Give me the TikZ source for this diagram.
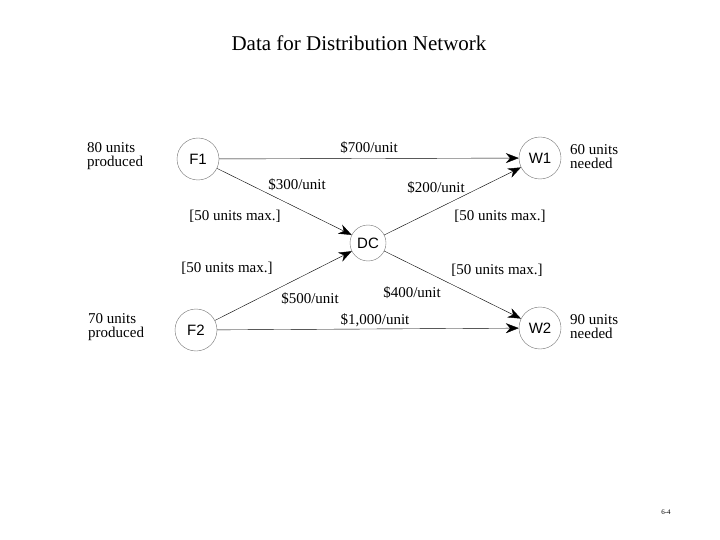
\documentclass[tikz,border=0pt]{standalone}
\usepackage{fontspec}
\setmainfont{Liberation Serif}
\newfontfamily\arial{Liberation Sans}
\usetikzlibrary{arrows.meta}
\begin{document}
\begin{tikzpicture}[x=1pt,y=-1pt,
  nd/.style={circle,draw=black!55,thin,minimum size=42pt,inner sep=0pt,font=\arial\fontsize{15}{15}\selectfont},
  arc/.style={draw,-{Stealth[length=13pt,width=10pt]}},
  lbl/.style={font=\fontsize{15}{16}\selectfont,inner sep=0pt},
  side/.style={font=\fontsize{15}{14}\selectfont,align=left,inner sep=0pt,anchor=west}]
\useasboundingbox (0,0) rectangle (720,540);
\node[font=\fontsize{21}{22}\selectfont] (title) at (359,43) {Data for Distribution Network};
\node[nd] (F1) at (198,159) {F1};
\node[nd] (F2) at (196,330) {F2};
\node[nd] (W1) at (540,158) {W1};
\node[nd] (W2) at (540,328) {W2};
\node[nd,minimum size=36pt] (DC) at (368,243) {DC};
\draw[arc] (F1) -- (W1);
\draw[arc] (F1) -- (DC);
\draw[arc] (DC) -- (W1);
\draw[arc] (F2) -- (DC);
\draw[arc] (DC) -- (W2);
\draw[arc] (F2) -- (W2);
\node[lbl] (c1) at (369,148) {\$700/unit};
\node[lbl] (c2) at (297,185) {\$300/unit};
\node[lbl] (c3) at (436,188) {\$200/unit};
\node[lbl] (m1) at (235,216) {[50 units max.]};
\node[lbl] (m2) at (500,216) {[50 units max.]};
\node[lbl] (m3) at (227,268) {[50 units max.]};
\node[lbl] (m4) at (497,270) {[50 units max.]};
\node[lbl] (c4) at (310,299) {\$500/unit};
\node[lbl] (c5) at (412,293) {\$400/unit};
\node[lbl] (c6) at (375,320) {\$1,000/unit};
\node[side] (s1) at (87,156) {80 units\\produced};
\node[side] (s2) at (88,327) {70 units\\produced};
\node[side] (s3) at (570,157) {60 units\\needed};
\node[side] (s4) at (570,327) {90 units\\needed};
\node[font=\fontsize{7}{7}\selectfont] (pg) at (666,512) {6-4};
\end{tikzpicture}
\end{document}
